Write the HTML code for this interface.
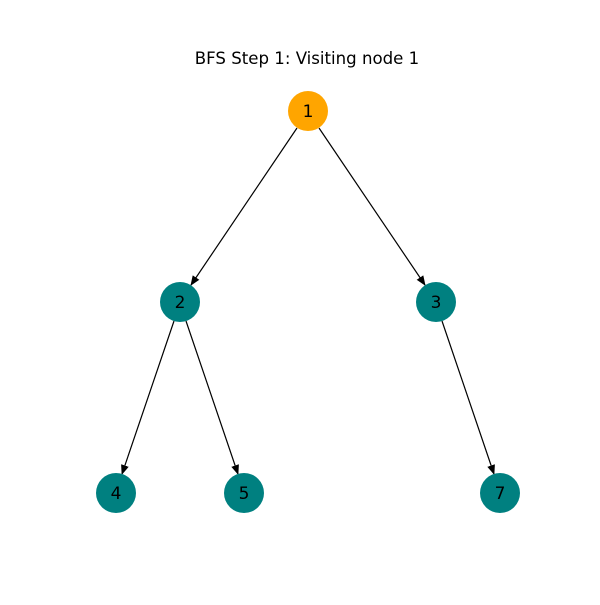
<!DOCTYPE html>
<html><head><meta charset="utf-8"><style>html,body{margin:0;padding:0;background:#fff}</style></head>
<body>
<svg width="600" height="600" viewBox="0 0 600 600" xmlns="http://www.w3.org/2000/svg" font-family="DejaVu Sans, Liberation Sans, sans-serif">
<defs><marker id="a" markerWidth="10" markerHeight="8" refX="9" refY="4" orient="auto" markerUnits="userSpaceOnUse"><path d="M0,0 L10,4 L0,8 Z" fill="#000"/></marker></defs>
<rect width="600" height="600" fill="#fff"/>
<text x="307" y="64" font-size="16.6" text-anchor="middle">BFS Step 1: Visiting node 1</text>
<g stroke="#000" stroke-width="1.2" marker-end="url(#a)">
<line x1="297" y1="128" x2="191" y2="285"/>
<line x1="319" y1="128" x2="425" y2="285"/>
<line x1="174" y1="321" x2="122" y2="474"/>
<line x1="186" y1="321" x2="238" y2="474"/>
<line x1="442" y1="321" x2="494" y2="474"/>
</g>
<circle cx="308" cy="111" r="20" fill="#FFA500"/>
<circle cx="180" cy="302" r="20" fill="#008080"/>
<circle cx="436" cy="302" r="20" fill="#008080"/>
<circle cx="116" cy="493" r="20" fill="#008080"/>
<circle cx="244" cy="493" r="20" fill="#008080"/>
<circle cx="500" cy="493" r="20" fill="#008080"/>
<g font-size="17" text-anchor="middle">
<text x="308" y="117">1</text>
<text x="180" y="308">2</text>
<text x="436" y="308">3</text>
<text x="116" y="499">4</text>
<text x="244" y="499">5</text>
<text x="500" y="499">7</text>
</g>
</svg>
</body></html>
